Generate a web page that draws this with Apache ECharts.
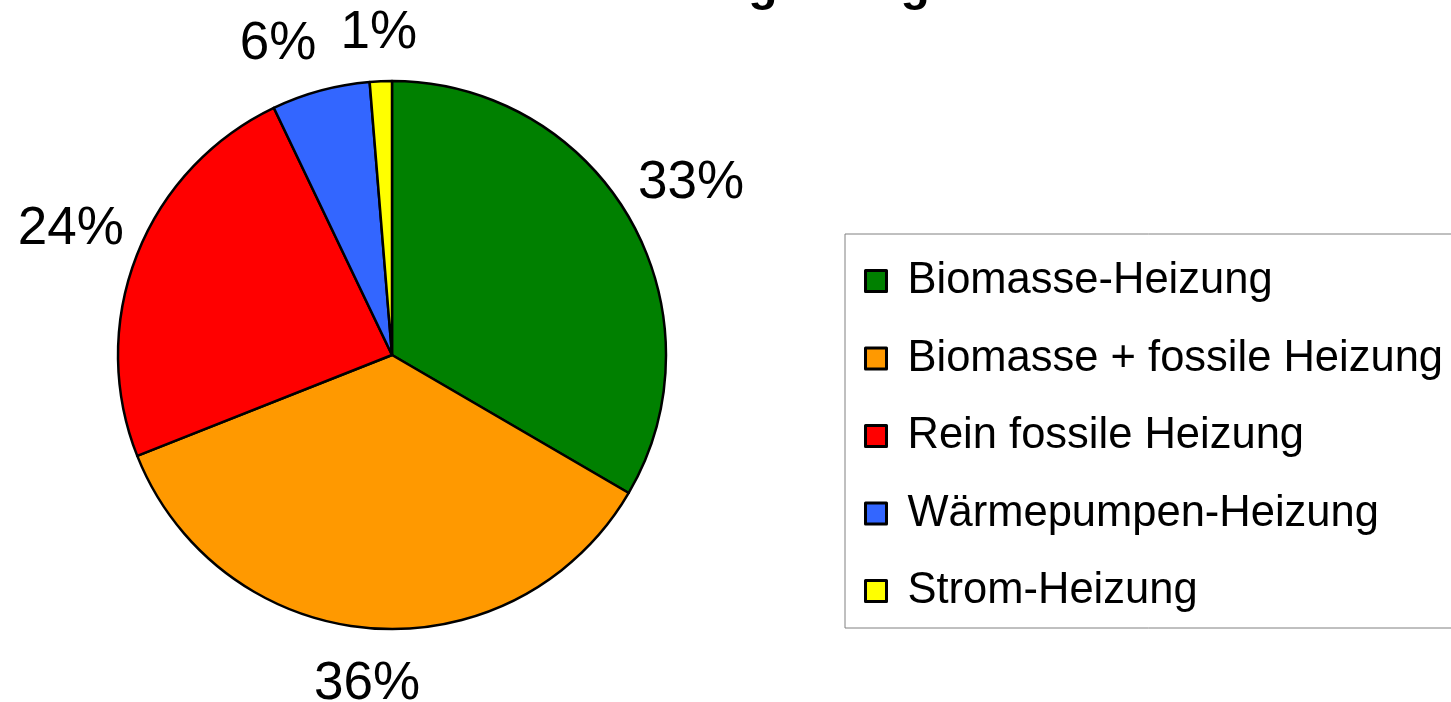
<!DOCTYPE html>
<html>
<head>
<meta charset="utf-8">
<script src="https://cdn.jsdelivr.net/npm/echarts@6/dist/echarts.min.js"></script>
<style>
html,body{margin:0;padding:0;background:#fff;}
#chart{width:1451px;height:702px;}
</style>
</head>
<body>
<div id="chart"></div>
<script>
const titleText = 'Heizungsanlagen';
const categories = ['Biomasse-Heizung', 'Biomasse + fossile Heizung', 'Rein fossile Heizung', 'Wärmepumpen-Heizung', 'Strom-Heizung'];
const values = [33.4, 35.6, 23.9, 5.8, 1.3];
const colors = ['#008000', '#FF9900', '#FF0000', '#3366FF', '#FFFF00'];

const FONT = 'Liberation Sans, Arial, sans-serif';
const CENTER = [392, 355];
const pieData = categories.map((c, i) => ({ name: c, value: values[i], itemStyle: { color: colors[i] } }));

// transparent helper pie: its "inside" labels sit at half its radius,
// i.e. outside the visible pie, like the reference's percentage labels
function labelSeries(outerRadius, shown, padding) {
  return {
    type: 'pie',
    center: CENTER,
    radius: [0, outerRadius],
    startAngle: 90,
    clockwise: true,
    silent: true,
    avoidLabelOverlap: false,
    minShowLabelAngle: 0,
    z: 1,
    itemStyle: { color: 'rgba(0,0,0,0)', borderWidth: 0 },
    labelLayout: { hideOverlap: false },
    label: {
      position: 'inside',
      formatter: p => Math.round(p.percent) + '%',
      fontFamily: FONT,
      fontSize: 53,
      color: '#000',
      padding: padding
    },
    labelLine: { show: false },
    data: categories.map((c, i) => ({ name: c, value: values[i], label: { show: shown.includes(i) } }))
  };
}

const chart = echarts.init(document.getElementById('chart'), null, { renderer: 'canvas' });
chart.setOption({
  animation: false,
  backgroundColor: '#ffffff',
  title: {
    text: titleText,
    left: 586,
    top: -42,
    textStyle: { fontFamily: FONT, fontSize: 48, fontWeight: 'bold', color: '#000' }
  },
  legend: {
    orient: 'vertical',
    left: 845,
    top: 234,
    data: categories,
    icon: 'rect',
    itemWidth: 21,
    itemHeight: 21,
    itemGap: 27.5,
    padding: [22, 10, 12, 19],
    borderColor: '#808080',
    borderWidth: 1,
    selectedMode: false,
    itemStyle: { borderColor: '#000', borderWidth: 3 },
    textStyle: {
      fontFamily: FONT,
      fontSize: 43.5,
      lineHeight: 50,
      color: '#000',
      padding: [0, 0, 0, 16]
    }
  },
  series: [
    {
      type: 'pie',
      center: CENTER,
      radius: [0, 274],
      startAngle: 90,
      clockwise: true,
      silent: true,
      label: { show: false },
      labelLine: { show: false },
      itemStyle: { borderColor: '#000', borderWidth: 2.5 },
      data: pieData
    },
    labelSeries(684, [0, 2], 0),
    labelSeries(654, [1], 0),
    labelSeries(638, [3], [0, 60, 0, 0]),
    labelSeries(638, [4], 0)
  ]
});
</script>
</body>
</html>
